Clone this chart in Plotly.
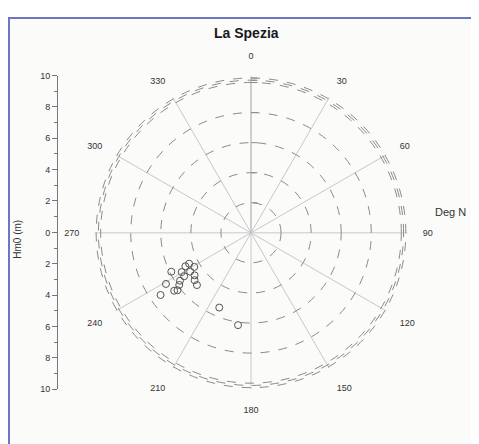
import plotly.graph_objects as go

# Wave height (m) and direction (deg N)
hm0 = [5.9, 6.6, 7.3, 6.4, 5.9, 5.3, 4.9, 4.6, 4.4, 4.8, 4.7, 5.3, 4.9, 5.0, 5.7, 6.2, 5.4, 6.2]
direction = [244, 239, 235.5, 233, 234, 240.5, 243, 243.5, 239, 237.5, 233, 237, 230, 226, 236, 232, 203, 188]

ring_values = [2, 4, 6, 8, 10, 10.15, 10.3]
angle_ticks = [0, 30, 60, 90, 120, 150, 180, 210, 240, 270, 300, 330]
angle_labels = [str(a) for a in angle_ticks]
hm_ticks = [-10, -8, -6, -4, -2, 0, 2, 4, 6, 8, 10]
hm_labels = [str(abs(v)) for v in hm_ticks]

OFF = 8  # page body margin shifts the figure by this many pixels
W, H = 479 - OFF, 444 - OFF


def px(x):
    return (x - OFF) / W


def py(y):
    return (H - (y - OFF)) / H


fig = go.Figure()

fig.add_trace(go.Scatterpolar(
    r=hm0, theta=direction, mode="markers",
    marker=dict(symbol="circle-open", size=7, color="#555555", line=dict(width=1)),
    showlegend=False, hoverinfo="skip"))

fig.add_trace(go.Scatter(x=[], y=[], showlegend=False))

txt = "#333333"
fig.update_layout(
    width=W, height=H,
    margin=dict(l=0, r=0, t=0, b=0),
    paper_bgcolor="white",
    plot_bgcolor="rgba(0,0,0,0)",
    font=dict(family="Liberation Sans, Arial, sans-serif", size=9, color=txt),
    polar=dict(
        domain=dict(x=[px(91), px(411)], y=[py(393), py(73)]),
        bgcolor="rgba(0,0,0,0)",
        angularaxis=dict(
            rotation=90, direction="clockwise",
            tickmode="array", tickvals=angle_ticks, ticktext=angle_labels,
            showline=False, showgrid=True, gridcolor="#c8c8c8", gridwidth=0.8,
            ticks="outside", ticklen=13, tickcolor="rgba(0,0,0,0)",
            tickfont=dict(size=9, color=txt),
        ),
        radialaxis=dict(
            range=[0, 10.4], angle=90, tickangle=90,
            tickmode="array", tickvals=ring_values,
            showticklabels=False, showgrid=True,
            griddash="dash", gridcolor="#8a8a8a", gridwidth=1,
            showline=True, linecolor="#b0b0b0", linewidth=0.8,
            ticks="outside", ticklen=6, tickcolor="#8a8a8a",
        ),
    ),
    xaxis=dict(domain=[px(58), 0.5], visible=False, range=[0, 1], fixedrange=True),
    yaxis=dict(
        domain=[py(393), py(72)], range=[-10, 10], anchor="x",
        showline=True, linecolor="#777777", linewidth=1,
        ticks="outside", ticklen=5, tickcolor="#777777",
        tickmode="array", tickvals=hm_ticks, ticktext=hm_labels,
        tickfont=dict(size=9, color=txt),
        minor=dict(ticks="outside", ticklen=3, dtick=1, tickcolor="#777777", showgrid=False),
        showgrid=False, zeroline=False,
    ),
    shapes=[dict(type="rect", xref="paper", yref="paper",
                 x0=px(9), x1=1.05, y0=-0.05, y1=py(13),
                 line=dict(color="#6c76c4", width=2), fillcolor="#fbfbfa", layer="below")],
    annotations=[
        dict(text="<b>La Spezia</b>", x=px(246), y=py(28), xref="paper", yref="paper",
             xanchor="center", yanchor="middle",
             showarrow=False, font=dict(size=14, color="#1a1a1a")),
        dict(text="Deg N", x=px(468), y=py(212), xref="paper", yref="paper",
             xanchor="right", yanchor="middle",
             showarrow=False, font=dict(size=11, color=txt)),
        dict(text="Hm0 (m)", x=px(18), y=py(240), xref="paper", yref="paper",
             xanchor="center", yanchor="middle",
             showarrow=False, textangle=-90, font=dict(size=10, color=txt)),
    ],
)

fig.write_html("out.html")
